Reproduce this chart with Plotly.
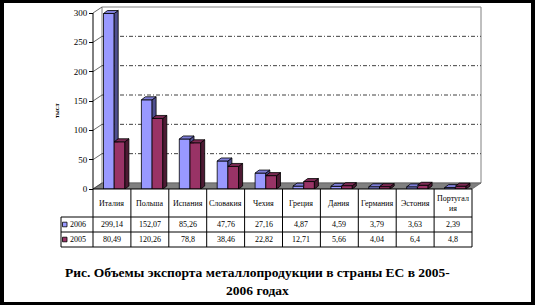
import plotly.graph_objects as go

# ---------------- data ----------------
categories = ["Италия", "Польша", "Испания", "Словакия", "Чехия",
              "Греция", "Дания", "Германия", "Эстония", "Португалия"]
category_labels = ["Италия", "Польша", "Испания", "Словакия", "Чехия",
                   "Греция", "Дания", "Германия", "Эстония", "Португал<br>ия"]
series_names = ["2006", "2005"]
values_2006 = [299.14, 152.07, 85.26, 47.76, 27.16, 4.87, 4.59, 3.79, 3.63, 2.39]
values_2005 = [80.49, 120.26, 78.8, 38.46, 22.82, 12.71, 5.66, 4.04, 6.4, 4.8]
y_ticks = [0, 50, 100, 150, 200, 250, 300]
y_title = "тыс.т"
caption_lines = ["Рис. Объемы экспорта металлопродукции в страны ЕС в 2005-",
                 "2006 годах"]

# ---------------- styling / geometry ----------------
W, H = 535, 305
L, R, T, B = 60, 45, 4, 116
X0 = 93.0          # px of category-axis origin
PX_CAT = 37.9      # px per category
Y0 = 189.0         # px of value 0
PX_UNIT = 176.0 / 300.0
YMAX = 300

FRONT = {"2006": "#9999FF", "2005": "#993366"}
TOP = {"2006": "#7D7DD6", "2005": "#7A2952"}
SIDE = {"2006": "#4F4F8F", "2005": "#4D1A33"}
SERIF = "Liberation Serif, Times New Roman, serif"

n = len(categories)
def dxp(px): return px / PX_CAT
def dyp(px): return px / PX_UNIT
def pxx(px): return (px - X0) / PX_CAT
def ppy(py): return (H - B - py) / (H - T - B)
def ppx(px): return (px - L) / (W - L - R)

xr = [pxx(L), pxx(W - R)]
yr = [0, (Y0 - T) / PX_UNIT]

BW = dxp(10.7)
OFF = [dxp(10.5), dxp(10.5) + BW]
BDX, BDY = dxp(4), dyp(3)
WDX, WDY = dxp(9), dyp(6)

fig = go.Figure()

# front faces (bars)
series_vals = [values_2006, values_2005]
for s, name in enumerate(series_names):
    fig.add_trace(go.Bar(
        x=list(range(n)), y=series_vals[s], width=BW, offset=OFF[s],
        marker=dict(color=FRONT[name], line=dict(color="black", width=0.8)),
        name=name, showlegend=False, hoverinfo="skip"))

# 3D top and side faces
for s, name in enumerate(series_names):
    topx, topy, sidex, sidey = [], [], [], []
    for i in range(n):
        v = series_vals[s][i]
        b0 = i + OFF[s]
        b1 = b0 + BW
        if s == 0:
            vm = values_2005[i]
            if vm >= v + BDY:
                px_ = [b0, b0 + BDX, b1, b1, b0]
                py_ = [v, v + BDY, v + BDY, v, v]
            else:
                px_ = [b0, b0 + BDX, b1 + BDX, b1, b0]
                py_ = [v, v + BDY, v + BDY, v, v]
            topx += px_ + [None]; topy += py_ + [None]
            if v > vm:
                sidex += [b1, b1 + BDX, b1 + BDX, b1, b1, None]
                sidey += [vm, vm, v + BDY, v, vm, None]
        else:
            topx += [b0, b0 + BDX, b1 + BDX, b1, b0, None]
            topy += [v, v + BDY, v + BDY, v, v, None]
            sidex += [b1, b1 + BDX, b1 + BDX, b1, b1, None]
            sidey += [0, BDY, v + BDY, v, 0, None]
    for xs, ys, col in [(sidex, sidey, SIDE[name]), (topx, topy, TOP[name])]:
        fig.add_trace(go.Scatter(x=xs, y=ys, mode="lines", fill="toself",
                                 fillcolor=col, line=dict(color="black", width=0.8),
                                 showlegend=False, hoverinfo="skip"))

shapes = []
# back wall
shapes.append(dict(type="rect", xref="x", yref="y", x0=WDX, x1=n + WDX,
                   y0=WDY, y1=YMAX + WDY, line=dict(color="#808080", width=1),
                   fillcolor="white", layer="below"))
# floor
shapes.append(dict(type="path", xref="x", yref="y",
                   path=f"M 0 0 L {WDX} {WDY} L {n + WDX} {WDY} L {n} 0 Z",
                   fillcolor="#808080", line=dict(color="#606060", width=0.8),
                   layer="below"))
# gridlines on back wall and on left wall
for v in y_ticks:
    if 0 < v < YMAX:
        shapes.append(dict(type="line", xref="x", yref="y", x0=WDX, x1=n + WDX,
                           y0=v + WDY, y1=v + WDY,
                           line=dict(color="#404040", width=1, dash="4px,2px,1px,2px"),
                           layer="below"))
    shapes.append(dict(type="line", xref="x", yref="y", x0=0, x1=WDX,
                       y0=v, y1=v + WDY, line=dict(color="#404040", width=0.8),
                       layer="below"))
# value axis line
shapes.append(dict(type="line", xref="x", yref="y", x0=0, x1=0, y0=0, y1=YMAX,
                   line=dict(color="black", width=1)))

# data table
row_y = [189, 217, 232, 247]
shapes.append(dict(type="line", xref="x", yref="paper", x0=0, x1=n,
                   y0=ppy(row_y[0]), y1=ppy(row_y[0]), line=dict(color="black", width=1)))
for ry in row_y[1:]:
    shapes.append(dict(type="line", xref="x", yref="paper", x0=pxx(61), x1=n,
                       y0=ppy(ry), y1=ppy(ry), line=dict(color="black", width=1)))
for k in range(n + 1):
    shapes.append(dict(type="line", xref="x", yref="paper", x0=k, x1=k,
                       y0=ppy(row_y[0]), y1=ppy(row_y[3]), line=dict(color="black", width=1)))
shapes.append(dict(type="line", xref="x", yref="paper", x0=pxx(61), x1=pxx(61),
                   y0=ppy(row_y[1]), y1=ppy(row_y[3]), line=dict(color="black", width=1)))

annotations = []
for i, lab in enumerate(category_labels):
    annotations.append(dict(x=i + 0.5, y=ppy((row_y[0] + row_y[1]) / 2), xref="x", yref="paper",
                            text=lab, showarrow=False, font=dict(family=SERIF, size=8, color="black"),
                            xanchor="center", yanchor="middle"))

def fmt(v):
    return ("%g" % v).replace(".", ",")

for s, name in enumerate(series_names):
    ymid = (row_y[1 + s] + row_y[2 + s]) / 2
    for i in range(n):
        annotations.append(dict(x=i + 0.5, y=ppy(ymid), xref="x", yref="paper",
                                text=fmt(series_vals[s][i]), showarrow=False,
                                font=dict(family=SERIF, size=8, color="black"),
                                xanchor="center", yanchor="middle"))
    shapes.append(dict(type="rect", xref="x", yref="paper", x0=pxx(62.5), x1=pxx(67),
                       y0=ppy(ymid + 2.3), y1=ppy(ymid - 2.3),
                       fillcolor=FRONT[name], line=dict(color="black", width=0.8)))
    annotations.append(dict(x=pxx(67.5), y=ppy(ymid), xref="x", yref="paper",
                            text=name, showarrow=False,
                            font=dict(family=SERIF, size=8, color="black"),
                            xanchor="left", yanchor="middle"))

# value axis title
annotations.append(dict(x=ppx(57), y=ppy(111), xref="paper", yref="paper", text="<b>" + y_title + "</b>",
                        textangle=-90, showarrow=False,
                        font=dict(family=SERIF, size=6, color="black"),
                        xanchor="center", yanchor="middle"))

# caption
for j, line in enumerate(caption_lines):
    annotations.append(dict(x=ppx(257), y=ppy(272 + 18 * j), xref="paper", yref="paper",
                            text="<b>" + line + "</b>", showarrow=False,
                            font=dict(family=SERIF, size=13.5, color="black"),
                            xanchor="center", yanchor="middle"))

# black frame
for (a, b, c, d) in [(0, 0, W, 3), (0, 302, W, H), (0, 0, 4, H), (531, 0, W, H)]:
    shapes.append(dict(type="rect", xref="paper", yref="paper",
                       x0=ppx(a), x1=ppx(c), y0=ppy(b), y1=ppy(d),
                       fillcolor="black", line=dict(width=0)))

fig.update_layout(
    width=W, height=H, margin=dict(l=L, r=R, t=T, b=B),
    paper_bgcolor="white", plot_bgcolor="white",
    barmode="overlay", showlegend=False,
    xaxis=dict(range=xr, visible=False, fixedrange=True),
    yaxis=dict(range=yr, tickvals=y_ticks, ticks="outside", ticklen=4,
               tickcolor="black", showline=False, showgrid=False, zeroline=False,
               anchor="free", position=ppx(X0),
               tickfont=dict(family=SERIF, size=9, color="black")),
    shapes=shapes, annotations=annotations,
)

fig.write_html("out.html")
